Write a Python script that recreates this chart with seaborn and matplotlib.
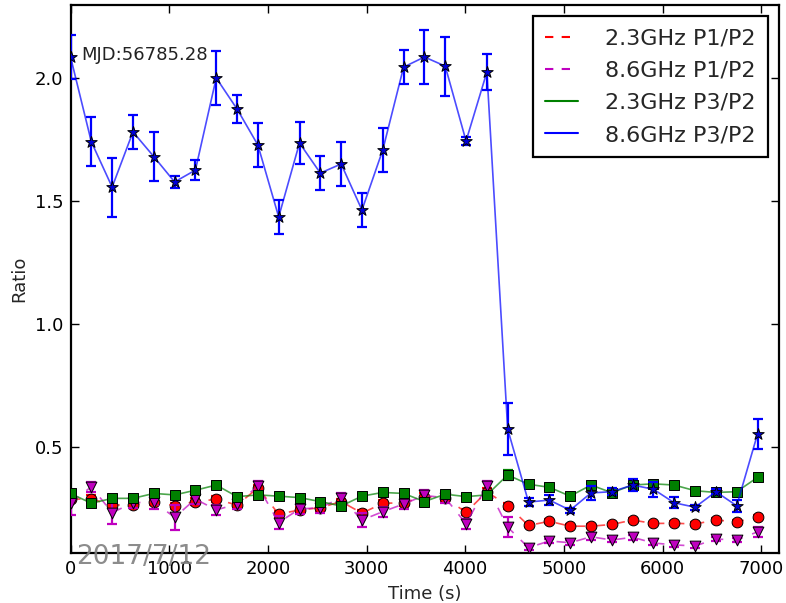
import numpy as np
import pandas as pd
import matplotlib
matplotlib.use("Agg")
import matplotlib.pyplot as plt
from matplotlib.lines import Line2D
import seaborn as sns

# ---- data ----
time_s = [0, 211, 422, 633, 844, 1055, 1266, 1477, 1688, 1899, 2110, 2321,
          2532, 2743, 2954, 3165, 3376, 3587, 3798, 4009, 4220, 4431, 4642,
          4853, 5064, 5275, 5486, 5697, 5908, 6119, 6330, 6541, 6752, 6963]

p3p2_86 = [2.085, 1.74, 1.556, 1.78, 1.68, 1.577, 1.625, 1.999, 1.873, 1.727,
           1.435, 1.735, 1.613, 1.65, 1.463, 1.707, 2.043, 2.084, 2.047, 1.743,
           2.023, 0.574, 0.278, 0.286, 0.245, 0.315, 0.32, 0.347, 0.33, 0.275,
           0.257, 0.32, 0.263, 0.554]
p3p2_86_err = [0.09, 0.10, 0.12, 0.07, 0.10, 0.025, 0.04, 0.11, 0.057, 0.09,
               0.07, 0.085, 0.07, 0.09, 0.07, 0.09, 0.07, 0.11, 0.12, 0.015,
               0.074, 0.105, 0.015, 0.02, 0.01, 0.03, 0.015, 0.023, 0.03, 0.022,
               0.01, 0.01, 0.025, 0.06]

p3p2_23 = [0.313, 0.273, 0.293, 0.293, 0.313, 0.307, 0.326, 0.347, 0.30, 0.307,
           0.302, 0.296, 0.28, 0.262, 0.302, 0.317, 0.313, 0.28, 0.31, 0.30,
           0.307, 0.388, 0.35, 0.338, 0.302, 0.347, 0.316, 0.347, 0.352, 0.347,
           0.324, 0.317, 0.32, 0.378]
p3p2_23_err = [0.01, 0.01, 0.01, 0.01, 0.01, 0.01, 0.01, 0.01, 0.01, 0.01,
               0.01, 0.01, 0.01, 0.01, 0.01, 0.01, 0.01, 0.01, 0.01, 0.01,
               0.01, 0.02, 0.01, 0.01, 0.01, 0.01, 0.01, 0.01, 0.01, 0.01,
               0.01, 0.01, 0.01, 0.01]

p1p2_23 = [0.29, 0.29, 0.266, 0.266, 0.28, 0.263, 0.28, 0.289, 0.266, 0.335,
           0.229, 0.246, 0.255, 0.28, 0.233, 0.273, 0.275, 0.30, 0.295, 0.236,
           0.32, 0.263, 0.183, 0.20, 0.18, 0.18, 0.187, 0.205, 0.191, 0.192,
           0.189, 0.205, 0.198, 0.216]
p1p2_23_err = [0.012, 0.015, 0.012, 0.012, 0.012, 0.012, 0.015, 0.012, 0.012, 0.012,
               0.012, 0.012, 0.012, 0.012, 0.012, 0.012, 0.012, 0.015, 0.012, 0.012,
               0.015, 0.012, 0.008, 0.008, 0.008, 0.008, 0.008, 0.008, 0.008, 0.008,
               0.008, 0.008, 0.008, 0.008]

p1p2_86 = [0.275, 0.34, 0.235, 0.275, 0.279, 0.216, 0.29, 0.246, 0.27, 0.343,
           0.195, 0.25, 0.255, 0.295, 0.205, 0.239, 0.27, 0.305, 0.295, 0.19,
           0.344, 0.176, 0.093, 0.12, 0.113, 0.137, 0.124, 0.135, 0.112, 0.104,
           0.10, 0.128, 0.124, 0.157]
p1p2_86_err = [0.05, 0.02, 0.045, 0.02, 0.03, 0.05, 0.02, 0.02, 0.02, 0.02,
               0.025, 0.02, 0.02, 0.02, 0.03, 0.02, 0.02, 0.02, 0.02, 0.02,
               0.02, 0.04, 0.01, 0.01, 0.01, 0.015, 0.01, 0.01, 0.01, 0.01,
               0.01, 0.01, 0.01, 0.02]

labels = ["2.3GHz P1/P2", "8.6GHz P1/P2", "2.3GHz P3/P2", "8.6GHz P3/P2"]
annotation = "MJD:56785.28"
date_stamp = "2017/7/12"

# ---- style ----
sns.set_style("ticks")
plt.rcParams["font.family"] = ["DejaVu Sans"]

fig = plt.figure(figsize=(7.86, 6.03), dpi=100)
ax = fig.add_axes([0.0897, 0.0824, 0.9013, 0.9093])

series = [
    (p1p2_23, p1p2_23_err, "#ff0000", "o", (0, (6, 6)), 60),
    (p1p2_86, p1p2_86_err, "#bf00bf", "v", (0, (6, 6)), 60),
    (p3p2_23, p3p2_23_err, "#008000", "s", "-", 55),
    (p3p2_86, p3p2_86_err, "#0000ff", "*", "-", 75),
]

for i, (vals, errs, col, mk, ls, ms) in enumerate(series):
    df = pd.DataFrame({"t": time_s, "v": vals})
    z = 2 + i * 3
    sns.lineplot(data=df, x="t", y="v", ax=ax, color=col, linestyle=ls,
                 linewidth=1.2, alpha=0.7, zorder=z, legend=False)
    ax.errorbar(time_s, vals, yerr=errs, fmt="none", ecolor=col,
                elinewidth=1.6, capsize=3.5, capthick=1.6, zorder=z + 0.5)
    mfc = "#0000dd" if mk == "*" else col
    sns.scatterplot(data=df, x="t", y="v", ax=ax, marker=mk, s=ms,
                    color=mfc, edgecolor="black", linewidth=0.7,
                    zorder=z + 1, legend=False)

ax.set_xlim(0, 7180)
ax.set_ylim(0.07, 2.295)
ax.set_xticks([0, 1000, 2000, 3000, 4000, 5000, 6000, 7000])
ax.set_yticks([0.5, 1.0, 1.5, 2.0])
ax.set_xlabel("Time (s)", fontsize=13, labelpad=5)
ax.set_ylabel("Ratio", fontsize=13, labelpad=5)
ax.tick_params(axis="both", which="major", direction="in", length=6,
               width=1, labelsize=13, top=True, right=True, pad=5,
               color="black", labelcolor="black")
for sp in ax.spines.values():
    sp.set_visible(True)
    sp.set_linewidth(1.6)
    sp.set_color("black")

ax.text(113, 2.092, annotation, fontsize=13, va="center", ha="left",
        color="#222222", zorder=20)

handles = [
    Line2D([0], [0], color="#ff0000", linestyle=(0, (4, 4)), lw=1.5),
    Line2D([0], [0], color="#bf00bf", linestyle=(0, (4, 4)), lw=1.5),
    Line2D([0], [0], color="#008000", linestyle="-", lw=1.5),
    Line2D([0], [0], color="#0000ff", linestyle="-", lw=1.5),
]
leg = ax.legend(handles, labels, loc="upper right", fontsize=16,
                frameon=True, fancybox=False, shadow=False,
                handlelength=1.5, handletextpad=1.2, borderaxespad=0.5,
                labelspacing=0.55, borderpad=0.55)
leg.get_frame().set_edgecolor("black")
leg.get_frame().set_linewidth(1.6)
leg.get_frame().set_alpha(1)
leg.set_zorder(30)

fig.text(0.1826, 0.0763, date_stamp, fontsize=19, color="#808080",
         alpha=0.9, ha="center", va="center", zorder=50)

fig.savefig("out.png", dpi=100, facecolor="white")
